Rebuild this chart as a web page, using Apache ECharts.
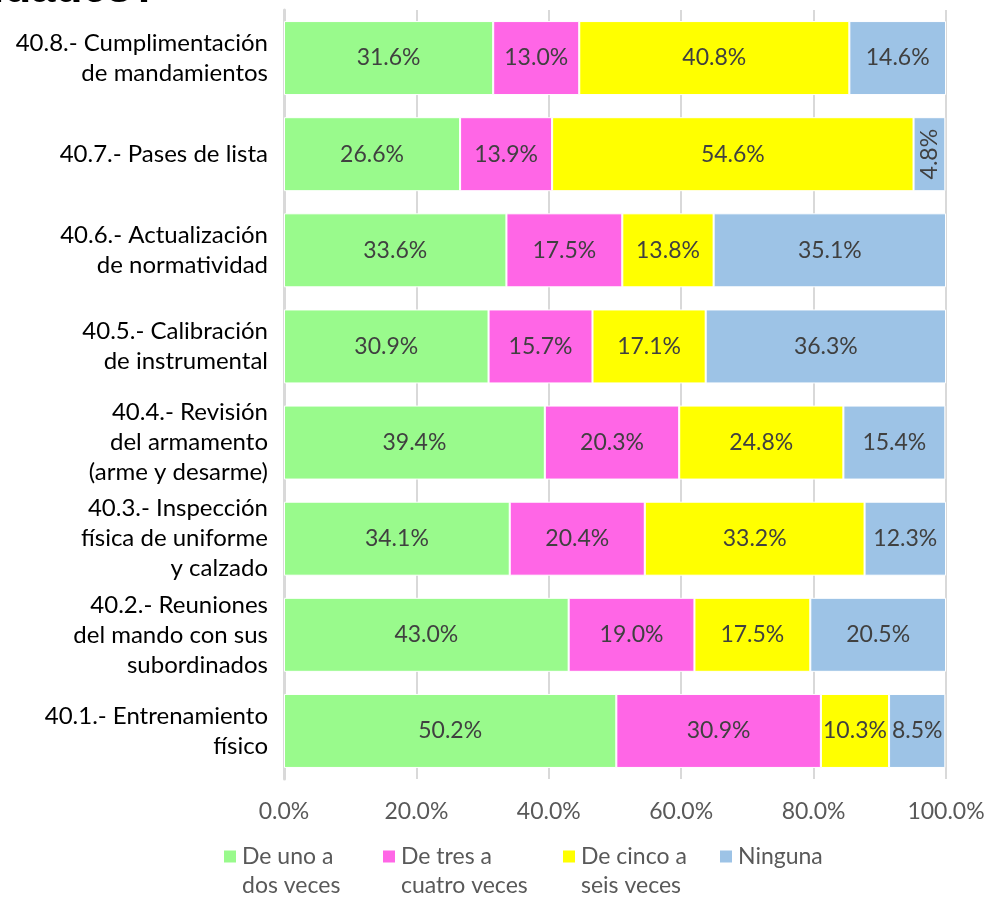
<!DOCTYPE html>
<html>
<head>
<meta charset="utf-8">
<script src="https://cdn.jsdelivr.net/npm/echarts@6/dist/echarts.min.js"></script>
<style>
  html, body { margin: 0; padding: 0; background: #fff; }
  #chart { width: 989px; height: 898px; }
</style>
</head>
<body>
<div id="chart"></div>
<script>
// Activities, listed bottom to top
const categories = [
  '40.1.- Entrenamiento\nfísico',
  '40.2.- Reuniones\ndel mando con sus\nsubordinados',
  '40.3.- Inspección\nfísica de uniforme\ny calzado',
  '40.4.- Revisión\ndel armamento\n(arme y desarme)',
  '40.5.- Calibración\nde instrumental',
  '40.6.- Actualización\nde normatividad',
  '40.7.- Pases de lista',
  '40.8.- Cumplimentación\nde mandamientos'
];

// Share of answers per frequency (%)
const deUnoADos     = [50.2, 43.0, 34.1, 39.4, 30.9, 33.6, 26.6, 31.6];
const deTresACuatro = [30.9, 19.0, 20.4, 20.3, 15.7, 17.5, 13.9, 13.0];
const deCincoASeis  = [10.3, 17.5, 33.2, 24.8, 17.1, 13.8, 54.6, 40.8];
const ninguna       = [8.5, 20.5, 12.3, 15.4, 36.3, 35.1, 4.8, 14.6];

const seriesNames = ['De uno a\ndos veces', 'De tres a\ncuatro veces', 'De cinco a\nseis veces', 'Ninguna'];
const seriesColors = ['#99FA8C', '#FF66E6', '#FFFF00', '#9DC3E6'];
const seriesValues = [deUnoADos, deTresACuatro, deCincoASeis, ninguna];

const xTicks = [0, 20, 40, 60, 80, 100];

const FONT = 'Lato';

const chart = echarts.init(document.getElementById('chart'), null, { renderer: 'canvas' });

const series = seriesValues.map((vals, i) => ({
  name: seriesNames[i],
  type: 'bar',
  stack: 'total',
  barWidth: 74,
  itemStyle: { color: seriesColors[i], borderColor: '#ffffff', borderWidth: 1 },
  label: {
    show: true,
    position: 'inside',
    color: '#404040',
    fontFamily: FONT,
    fontSize: 23,
    formatter: p => p.value.toFixed(1) + '%'
  },
  data: vals.map(v => {
    // the narrow 4.8% segment carries a vertical label
    if (i === 3 && v === 4.8) {
      return { value: v, label: { rotate: 90 } };
    }
    return v;
  })
}));

// one legend block per series so each entry sits where it should;
// an empty leading line keeps the first text line level with the swatch
const legendLeft = [222, 381, 561, 718];
const legends = seriesNames.map((name, i) => {
  const twoLines = name.indexOf('\n') >= 0;
  return {
    data: [name],
    left: legendLeft[i],
    top: twoLines ? 813 : 842,
    orient: 'horizontal',
    itemWidth: 14,
    itemHeight: 14,
    itemGap: 0,
    padding: 0,
    icon: 'rect',
    selectedMode: false,
    formatter: n => (n.indexOf('\n') >= 0 ? ' \n' + n : n),
    textStyle: {
      color: '#595959',
      fontFamily: FONT,
      fontSize: 23,
      lineHeight: 29
    }
  };
});

chart.setOption({
  animation: false,
  backgroundColor: '#ffffff',
  // tail of the heading that runs above the chart area
  graphic: [{
    type: 'text',
    x: -8,
    y: -10,
    silent: true,
    style: {
      text: 'idades?',
      fill: '#000000',
      verticalAlign: 'middle',
      font: 'bold 44px "Liberation Sans", Arial, sans-serif'
    }
  }],
  grid: { left: 284, right: 43, top: 10, bottom: 119, containLabel: false },
  legend: legends,
  xAxis: {
    type: 'value',
    min: 0,
    max: 100,
    interval: 20,
    axisLine: { show: false },
    axisTick: { show: false },
    splitLine: { show: true, lineStyle: { color: '#D9D9D9', width: 2 } },
    axisLabel: {
      color: '#595959',
      fontFamily: FONT,
      fontSize: 23,
      margin: 21,
      formatter: v => (xTicks.indexOf(v) >= 0 ? v.toFixed(1) + '%' : '')
    }
  },
  yAxis: {
    type: 'category',
    data: categories,
    axisLine: { show: true, lineStyle: { color: '#D9D9D9', width: 3 } },
    axisTick: { show: false },
    axisLabel: {
      color: '#000000',
      fontFamily: FONT,
      fontSize: 24,
      lineHeight: 30,
      margin: 16,
      align: 'right'
    }
  },
  series: series
});
</script>
</body>
</html>
